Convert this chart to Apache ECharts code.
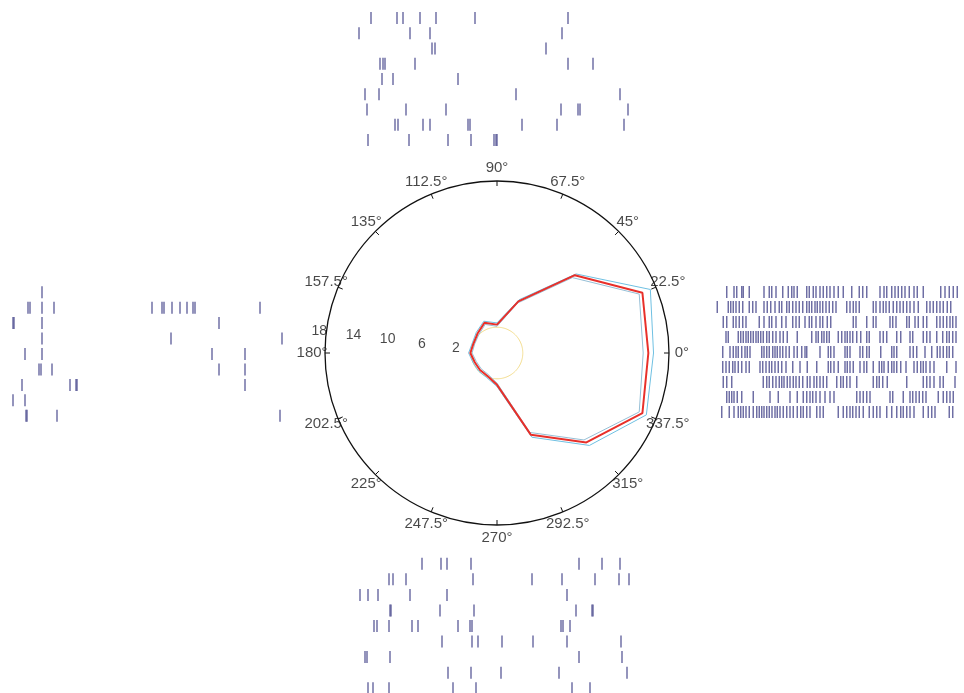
<!DOCTYPE html>
<html>
<head>
<meta charset="utf-8">
<script src="https://cdn.jsdelivr.net/npm/echarts@6/dist/echarts.min.js"></script>
<style>
  html, body { margin: 0; padding: 0; background: #ffffff; }
  #chart { width: 964px; height: 693px; }
</style>
</head>
<body>
<div id="chart"></div>
<script>
// Movement directions (degrees) of the tuning curve
const directions = [0, 22.5, 45, 67.5, 90, 112.5, 135, 157.5, 180, 202.5, 225, 247.5, 270, 292.5, 315, 337.5];
// Mean firing rate (spikes/s) per direction, with upper / lower error bounds
const meanRate  = [17.6, 18.3, 12.8, 6.5, 3.3, 3.8, 3.2, 2.95, 3.1, 2.8, 2.8, 2.9, 3.7, 10.3, 14.7, 18.3];
const upperRate = [18.2, 19.3, 13.0, 6.7, 3.5, 4.0, 3.4, 3.1, 3.3, 3.0, 3.0, 3.1, 3.9, 10.6, 15.2, 18.8];
const lowerRate = [17.0, 17.9, 12.4, 6.3, 3.1, 3.6, 3.0, 2.8, 2.9, 2.6, 2.6, 2.7, 3.5, 10.0, 14.3, 17.9];
// Baseline (spontaneous) rate
const baselineRate = 3.0;

// Radial tick labels and angular tick labels
const radiusTicks = [2, 6, 10, 14, 18];
const angleTickLabels = ['0°', '22.5°', '45°', '67.5°', '90°', '112.5°', '135°', '157.5°',
  '180°', '202.5°', '225°', '247.5°', '270°', '292.5°', '315°', '337.5°'];

// Spike rasters: spike times (ms) for each of nine trials
const raster0 = [ // preferred direction, right
  [51, 80, 91, 111, 117, 141, 200, 221, 231, 248, 275, 297, 311, 320, 333, 371, 381, 397, 408, 424, 437, 451, 464, 480, 497, 517, 551, 581, 595, 611, 664, 680, 691, 711, 724, 737, 751, 764, 781, 800, 813, 837, 907, 924, 941, 957, 973],
  [13, 57, 67, 77, 88, 101, 115, 141, 155, 168, 200, 213, 227, 244, 261, 271, 291, 301, 315, 328, 341, 355, 371, 381, 391, 404, 413, 424, 435, 448, 461, 475, 488, 531, 544, 557, 568, 581, 637, 648, 664, 677, 688, 701, 717, 731, 744, 757, 771, 784, 800, 817, 851, 864, 877, 891, 904, 917, 933, 947],
  [37, 51, 77, 88, 101, 115, 128, 181, 200, 221, 231, 248, 271, 288, 315, 328, 341, 364, 381, 391, 408, 424, 435, 453, 467, 557, 568, 611, 637, 648, 704, 715, 728, 771, 781, 804, 817, 837, 851, 891, 904, 917, 931, 944, 955, 968],
  [48, 57, 97, 107, 117, 128, 137, 147, 157, 168, 177, 187, 197, 211, 221, 235, 248, 264, 277, 293, 333, 391, 408, 417, 431, 440, 451, 461, 497, 511, 524, 533, 544, 555, 571, 587, 611, 621, 664, 677, 691, 731, 747, 784, 795, 837, 851, 864, 891, 915, 931, 941, 955, 968],
  [35, 64, 77, 88, 97, 111, 124, 133, 144, 191, 200, 211, 221, 235, 244, 253, 264, 275, 288, 301, 320, 333, 351, 364, 371, 424, 457, 467, 480, 524, 533, 544, 584, 595, 611, 621, 667, 711, 720, 731, 784, 797, 811, 844, 871, 893, 904, 917, 931, 941, 955],
  [35, 48, 61, 75, 84, 97, 111, 128, 141, 184, 195, 208, 221, 231, 244, 257, 271, 288, 315, 344, 373, 411, 457, 467, 480, 497, 524, 533, 544, 557, 584, 600, 611, 637, 661, 671, 680, 697, 711, 720, 731, 747, 768, 800, 813, 827, 837, 848, 864, 880, 931, 968],
  [37, 51, 71, 197, 211, 221, 235, 248, 261, 271, 280, 293, 304, 317, 328, 341, 355, 373, 384, 400, 411, 424, 437, 451, 491, 507, 517, 531, 544, 571, 637, 651, 661, 675, 693, 771, 837, 851, 864, 880, 904, 917, 964],
  [51, 61, 71, 80, 93, 111, 157, 224, 257, 304, 333, 357, 371, 384, 395, 408, 424, 444, 464, 480, 571, 584, 597, 611, 624, 704, 715, 757, 784, 795, 808, 821, 835, 848, 897, 917, 931, 944, 957],
  [31, 61, 80, 97, 107, 117, 128, 141, 157, 171, 181, 191, 200, 211, 221, 232, 244, 253, 264, 277, 291, 304, 317, 333, 347, 357, 371, 384, 411, 424, 437, 497, 517, 531, 544, 555, 568, 581, 597, 621, 637, 651, 664, 691, 711, 731, 747, 757, 771, 784, 800, 837, 857, 871, 884, 941, 955]
];
const raster90 = [ // top
  [64, 168, 192, 260, 324, 480, 852],
  [16, 220, 300, 828],
  [308, 320, 764],
  [100, 112, 120, 240, 852, 952],
  [108, 152, 412],
  [40, 96, 644, 1060],
  [48, 204, 364, 824, 892, 900, 1092],
  [160, 172, 272, 300, 452, 460, 668, 808, 1076],
  [52, 216, 372, 464, 556, 564, 568]
];
const raster180 = [ // left
  [128],
  [72, 80, 128, 176, 568, 608, 616, 648, 680, 708, 732, 740, 1000],
  [12, 16, 128, 836],
  [128, 644, 1088],
  [60, 128, 808, 940],
  [116, 124, 168, 836, 940],
  [48, 240, 264, 268, 940],
  [12, 60],
  [64, 68, 188, 1080]
];
const raster270 = [ // bottom
  [268, 344, 368, 464, 896, 988, 1060],
  [136, 152, 204, 472, 708, 828, 960, 1056, 1096],
  [20, 52, 92, 220, 368, 848],
  [140, 144, 340, 476, 884, 948, 952],
  [76, 88, 136, 228, 252, 412, 460, 468, 824, 832, 860],
  [348, 468, 492, 588, 712, 848, 1064],
  [40, 48, 140, 896, 1068],
  [372, 464, 584, 816, 1088],
  [52, 72, 136, 392, 484, 868, 940]
];

const FONT = "'Liberation Sans', Arial, Helvetica, sans-serif";
const SPIKE_COLOR = '#4b4b8e';

// layout of the four raster panels around the polar plot
const panels = [
  { name: 'raster0',   trials: raster0,   left: 714, top: 284.5, height: 135 },
  { name: 'raster90',  trials: raster90,  left: 355, top: 10.5,  height: 137 },
  { name: 'raster180', trials: raster180, left: 10,  top: 284.5, height: 139 },
  { name: 'raster270', trials: raster270, left: 355, top: 556,   height: 140 }
];
const TIME_WINDOW = 1100; // ms shown in each raster

const grids = [], xAxes = [], yAxes = [], rasterSeries = [];
panels.forEach((p, k) => {
  grids.push({
    left: p.left, top: p.top, width: 275, height: p.height,
    containLabel: false, outerBoundsMode: 'none'
  });
  xAxes.push({ gridIndex: k, type: 'value', min: 0, max: TIME_WINDOW, show: false });
  yAxes.push({ gridIndex: k, type: 'value', min: 0.5, max: 9.5, inverse: true, show: false });
  const pts = [];
  p.trials.forEach((times, i) => times.forEach(t => pts.push([t, i + 1])));
  rasterSeries.push({
    name: p.name, type: 'scatter', xAxisIndex: k, yAxisIndex: k,
    symbol: 'rect', symbolSize: [1.4, 12], data: pts,
    itemStyle: { color: SPIKE_COLOR, opacity: 0.85 },
    silent: true, clip: false
  });
});

// closed polar outlines
const closeLoop = vals => directions.map((a, i) => [vals[i], a]).concat([[vals[0], 360]]);
const baselineAngles = [];
for (let a = 0; a <= 360; a += 5) baselineAngles.push(a);

const LABEL_RADIUS = 21.5;     // angle labels sit just outside the rim (radius max 20)
const RADIUS_LABEL_ANGLE = 173; // radial tick labels run along this direction

const option = {
  animation: false,
  backgroundColor: '#ffffff',
  grid: grids,
  xAxis: xAxes,
  yAxis: yAxes,
  polar: { center: [497, 353], radius: 172 },
  angleAxis: {
    type: 'value', min: 0, max: 360, interval: 22.5,
    startAngle: 0, clockwise: false,
    axisLine: { show: true, lineStyle: { color: '#111', width: 1.3 } },
    axisTick: { show: true, inside: true, length: 5, lineStyle: { color: '#111', width: 1 } },
    axisLabel: { show: false },
    splitLine: { show: false }
  },
  radiusAxis: {
    type: 'value', min: 0, max: 20,
    axisLine: { show: false }, axisTick: { show: false },
    axisLabel: { show: false }, splitLine: { show: false }
  },
  series: rasterSeries.concat([
    {
      name: 'baseline', type: 'line', coordinateSystem: 'polar',
      data: baselineAngles.map(a => [baselineRate, a]),
      symbol: 'none', smooth: true,
      lineStyle: { color: '#f2dc8c', width: 1 }, silent: true, z: 2
    },
    {
      name: 'upper', type: 'line', coordinateSystem: 'polar',
      data: closeLoop(upperRate), symbol: 'none',
      lineStyle: { color: '#6fc0e2', width: 1 }, silent: true, z: 3
    },
    {
      name: 'lower', type: 'line', coordinateSystem: 'polar',
      data: closeLoop(lowerRate), symbol: 'none',
      lineStyle: { color: '#96bfd6', width: 1 }, silent: true, z: 3
    },
    {
      name: 'mean', type: 'line', coordinateSystem: 'polar',
      data: closeLoop(meanRate), symbol: 'none',
      lineStyle: { color: '#e8302a', width: 2 }, silent: true, z: 4
    },
    {
      name: 'angle labels', type: 'scatter', coordinateSystem: 'polar',
      data: directions.map(a => [LABEL_RADIUS, a]),
      symbolSize: 0, clip: false, silent: true, z: 5,
      label: {
        show: true, position: 'inside',
        formatter: p => angleTickLabels[p.dataIndex],
        color: '#1a1a1a', fontFamily: FONT, fontSize: 15
      }
    },
    {
      name: 'radius labels', type: 'scatter', coordinateSystem: 'polar',
      data: radiusTicks.map(v => [v, RADIUS_LABEL_ANGLE]),
      symbolSize: 0, clip: false, silent: true, z: 5,
      label: {
        show: true, position: 'inside', offset: [-24, -3],
        formatter: p => String(radiusTicks[p.dataIndex]),
        color: '#1a1a1a', fontFamily: FONT, fontSize: 14
      }
    }
  ])
};

const chart = echarts.init(document.getElementById('chart'), null, { renderer: 'canvas' });
chart.setOption(option);
</script>
</body>
</html>
